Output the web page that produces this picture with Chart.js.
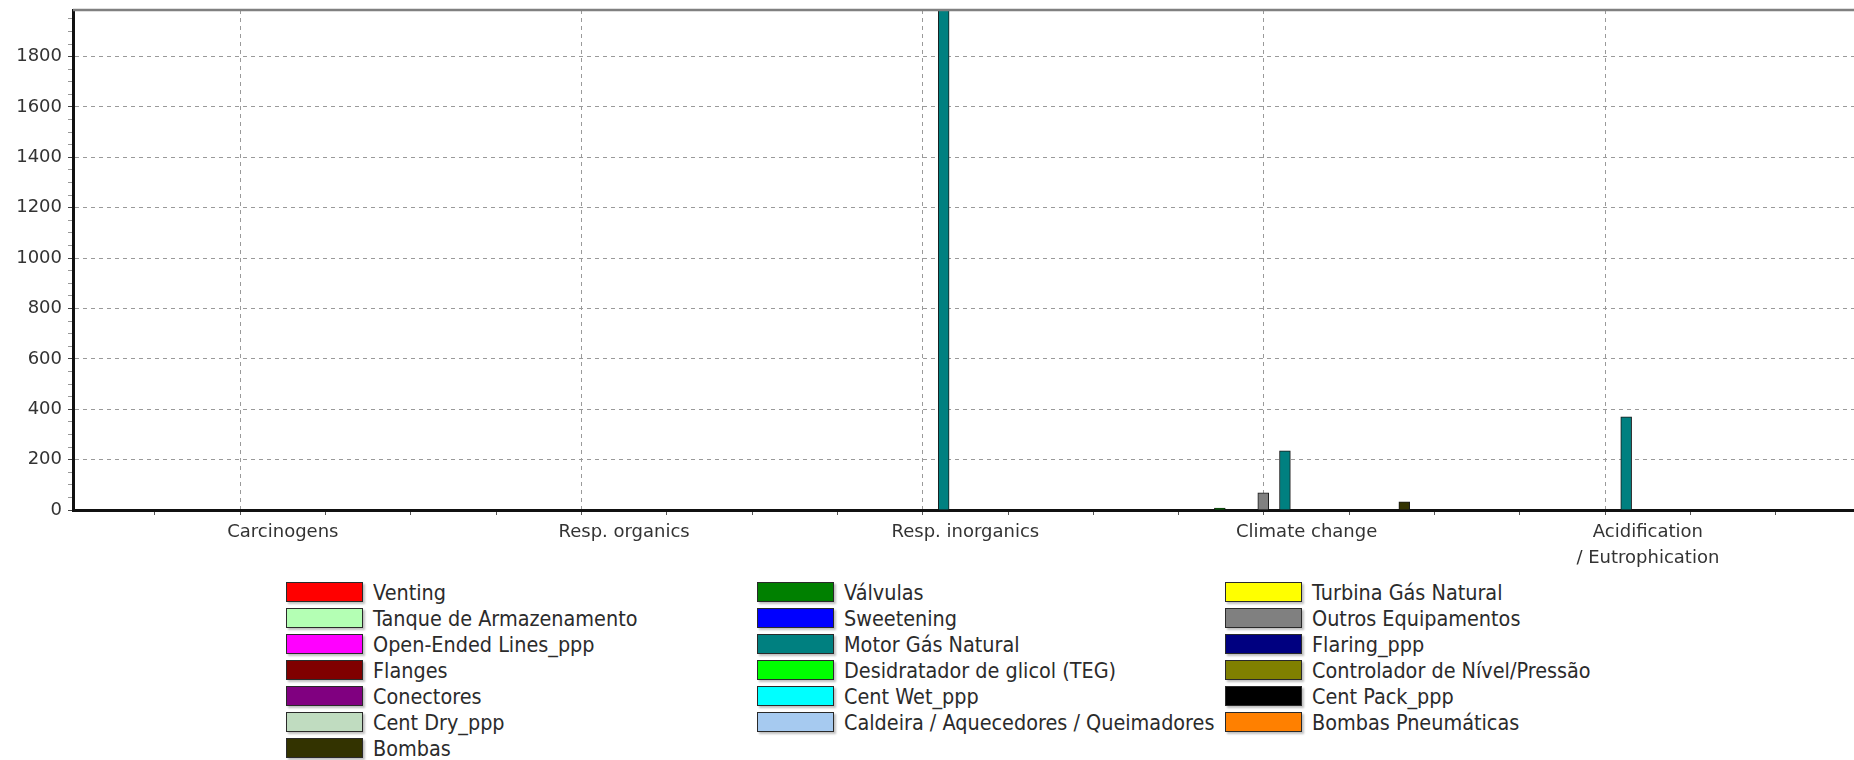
<!DOCTYPE html>
<html>
<head>
<meta charset="utf-8">
<script src="https://cdn.jsdelivr.net/npm/chart.js@4.4.1/dist/chart.umd.min.js"></script>
<style>
  body { margin: 0; background: #fff; font-family: "DejaVu Sans", sans-serif; }
  #wrap { position: relative; width: 1854px; height: 760px; overflow: hidden; }
  #plot { position: absolute; left: 0; top: 0; }
  #legend {
    position: absolute; left: 286px; top: 579px;
    display: grid; grid-template-columns: 471px 468px 420px; grid-auto-rows: 26px;
  }
  .item { display: flex; align-items: center; }
  .swatch {
    width: 77px; height: 20px; box-sizing: border-box; flex: none;
    border: 1px solid #2a2a2a; box-shadow: 2px 2px 2px rgba(0, 0, 0, .25);
  }
  .label {
    display: inline-block; margin-left: 10px; font-size: 22px; color: #2b2b2b;
    white-space: nowrap; transform: scaleX(.875); transform-origin: left center;
  }
</style>
</head>
<body>
<div id="wrap">
  <canvas id="plot" width="1854" height="571"></canvas>
  <div id="legend"></div>
</div>
<script>
const categories = ['Carcinogens', 'Resp. organics', 'Resp. inorganics', 'Climate change', 'Acidification\n/ Eutrophication'];

const seriesNames = [
  'Venting', 'Válvulas', 'Turbina Gás Natural',
  'Tanque de Armazenamento', 'Sweetening', 'Outros Equipamentos',
  'Open-Ended Lines_ppp', 'Motor Gás Natural', 'Flaring_ppp',
  'Flanges', 'Desidratador de glicol (TEG)', 'Controlador de Nível/Pressão',
  'Conectores', 'Cent Wet_ppp', 'Cent Pack_ppp',
  'Cent Dry_ppp', 'Caldeira / Aquecedores / Queimadores', 'Bombas Pneumáticas',
  'Bombas'
];

const seriesColors = [
  '#ff0000', '#008000', '#ffff00',
  '#b4ffb4', '#0000ff', '#808080',
  '#ff00ff', '#008080', '#000080',
  '#800000', '#00ff00', '#808000',
  '#800080', '#00ffff', '#000000',
  '#c0dcc0', '#a6caf0', '#ff8000',
  '#333300'
];

// values per impact category, same order as categories
const valvulas           = [null, null, null, 8, null];
const outrosEquipamentos = [null, null, null, 68, null];
const motorGasNatural    = [null, null, 1985, 235, 370];
const bombas             = [null, null, null, 32, null];
const noValues           = [null, null, null, null, null];

const seriesValues = {
  'Válvulas': valvulas,
  'Outros Equipamentos': outrosEquipamentos,
  'Motor Gás Natural': motorGasNatural,
  'Bombas': bombas
};

const allValues = Object.values(seriesValues).flat().filter(v => v != null);
const yMax = Math.max(...allValues);

const FONT = '"DejaVu Sans", sans-serif';

const datasets = seriesNames.map((name, i) => ({
  label: name,
  data: (seriesValues[name] || noValues).map((v, k) => ({ x: k, y: v })),
  backgroundColor: seriesColors[i],
  borderColor: '#1a1a1a',
  borderWidth: 1
}));

// grey line closing the plot at the top
const topFrame = {
  id: 'topFrame',
  afterDatasetsDraw(chart) {
    const { ctx, chartArea: a } = chart;
    ctx.save();
    ctx.strokeStyle = '#808080';
    ctx.lineWidth = 2.5;
    ctx.beginPath();
    ctx.moveTo(a.left, a.top);
    ctx.lineTo(a.right, a.top);
    ctx.stroke();
    ctx.restore();
  }
};

const chart = new Chart(document.getElementById('plot'), {
  type: 'bar',
  data: { datasets },
  plugins: [topFrame],
  options: {
    responsive: false,
    animation: false,
    layout: { padding: { top: 10, left: 0, right: 0, bottom: 0 } },
    plugins: { legend: { display: false }, tooltip: { enabled: false } },
    // fixed thickness: all 19 slots side by side around each category
    datasets: { bar: { barThickness: 10.85 } },
    scales: {
      x: {
        type: 'linear',
        min: -0.615,
        max: 4.604,
        offset: false,
        afterFit(scale) { scale.height = 61; scale.paddingLeft = 0; scale.paddingRight = 0; },
        ticks: {
          stepSize: 0.25,
          autoSkip: false,
          includeBounds: false,
          maxRotation: 0,
          padding: 4,
          color: '#333',
          font: { family: FONT, size: 18, lineHeight: '26px' },
          callback: v => (Number.isInteger(v) && categories[v]) ? categories[v].split('\n') : ''
        },
        grid: {
          color: c => Number.isInteger(c.tick && c.tick.value) ? '#9a9a9a' : 'rgba(0,0,0,0)',
          tickColor: '#555',
          tickLength: 5
        },
        border: { color: '#111', width: 3, dash: [4, 4] }
      },
      y: {
        min: 0,
        max: yMax,
        afterFit(scale) { scale.width = 73; scale.paddingTop = 0; scale.paddingBottom = 0; },
        ticks: {
          stepSize: 50,
          autoSkip: false,
          includeBounds: false,
          padding: 6,
          color: '#333',
          font: { family: FONT, size: 18 },
          callback: v => v % 200 === 0 ? String(v) : ''
        },
        grid: {
          color: c => (c.tick && c.tick.value % 200 === 0) ? '#9a9a9a' : 'rgba(0,0,0,0)',
          tickColor: c => (c.tick && c.tick.value % 200 === 0) ? '#444' : '#999',
          tickLength: 5
        },
        border: { color: '#111', width: 3, dash: [4, 4] }
      }
    }
  }
});

// legend laid out in three columns, row by row
const legendEl = document.getElementById('legend');
chart.data.datasets.forEach(ds => {
  const item = document.createElement('div');
  item.className = 'item';
  const sw = document.createElement('span');
  sw.className = 'swatch';
  sw.style.background = ds.backgroundColor;
  const lb = document.createElement('span');
  lb.className = 'label';
  lb.textContent = ds.label;
  item.appendChild(sw);
  item.appendChild(lb);
  legendEl.appendChild(item);
});
</script>
</body>
</html>
